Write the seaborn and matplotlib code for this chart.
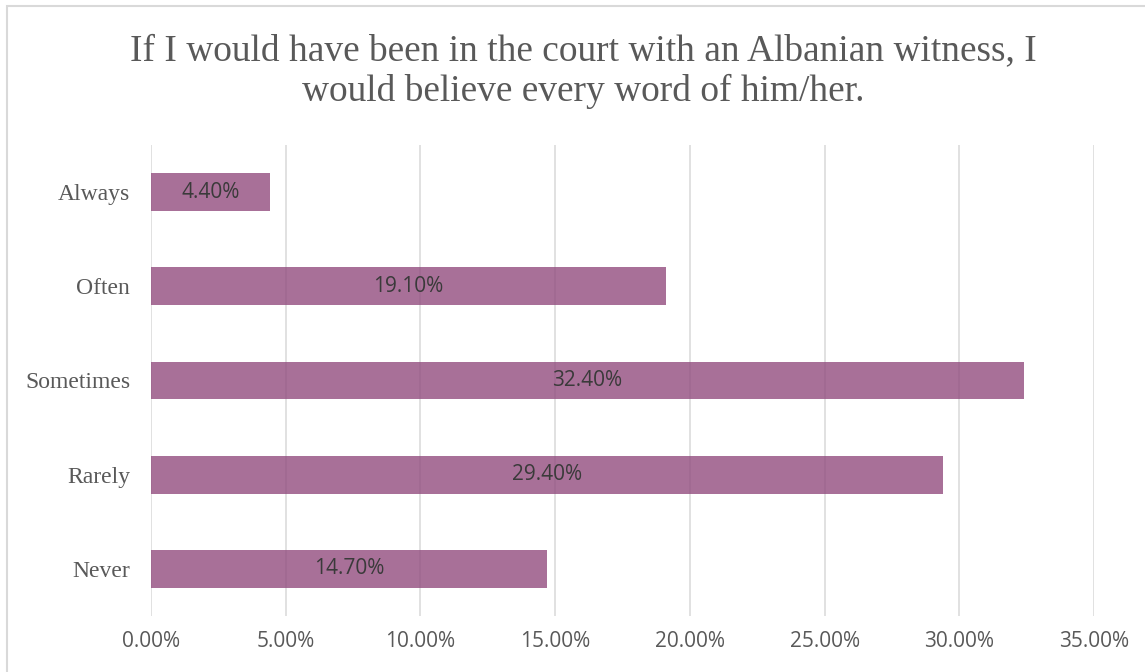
import matplotlib
matplotlib.use("Agg")
import matplotlib.pyplot as plt
import matplotlib.patches as mpatches
from matplotlib.ticker import FuncFormatter
import seaborn as sns
import pandas as pd

# Survey answers and their shares (percent)
answers = ["Always", "Often", "Sometimes", "Rarely", "Never"]
shares = [4.4, 19.1, 32.4, 29.4, 14.7]
x_ticks = [0, 5, 10, 15, 20, 25, 30, 35]
title_lines = [
    "If I would have been in the court with an Albanian witness, I",
    "would believe every word of him/her.",
]

sns.set_theme(style="white")
plt.rcParams["font.family"] = ["Liberation Serif", "DejaVu Serif"]

df = pd.DataFrame({"answer": answers, "share": shares})

fig = plt.figure(figsize=(11.45, 6.72), dpi=100)
ax = fig.add_axes([151 / 1145, 1 - 616 / 672, (1094 - 151) / 1145, (616 - 145) / 672])

sns.barplot(data=df, y="answer", x="share", order=answers, orient="h",
            color="#924C7E", alpha=0.8, width=0.4, saturation=1,
            edgecolor="none", ax=ax)

ax.set_xlim(0, 35)
ax.set_ylim(len(answers) - 0.5, -0.5)
ax.set_xticks(x_ticks)
ax.xaxis.set_major_formatter(FuncFormatter(lambda v, _: f"{v:.2f}%"))
ax.grid(axis="x", color="#d9d9d9", linewidth=1.1)
ax.grid(axis="y", visible=False)
ax.set_axisbelow(True)
for s in ax.spines.values():
    s.set_visible(False)
ax.set_xlabel("")
ax.set_ylabel("")
ax.tick_params(axis="x", length=0, pad=11, labelsize=15, colors="#595959")
ax.tick_params(axis="y", length=0, pad=15, labelsize=17, colors="#595959")
for lbl in ax.get_xticklabels():
    lbl.set_fontfamily(["Open Sans", "DejaVu Sans"])
for lbl in ax.get_yticklabels():
    lbl.set_fontfamily(["Liberation Serif", "DejaVu Serif"])

# Value labels centred in each bar
for cont in ax.containers:
    ax.bar_label(cont, labels=[f"{v:.2f}%" for v in shares], label_type="center",
                 fontsize=15, color="#3a3a3a", family=["Open Sans", "DejaVu Sans"])

# Two-line title
for i, line in enumerate(title_lines):
    fig.text(583 / 1145, 1 - (60 + 41 * i) / 672, line, ha="center", va="baseline",
             fontsize=26.9, color="#595959", family=["Liberation Serif", "DejaVu Serif"])

# Chart-area border
border = mpatches.Rectangle((6.5 / 1145, -0.05), 1.1, (672 - 5.5) / 672 + 0.05,
                            transform=fig.transFigure, fill=False,
                            edgecolor="#d9d9d9", linewidth=1.5)
fig.patches.append(border)

fig.savefig("out.png", dpi=100, facecolor="white")
